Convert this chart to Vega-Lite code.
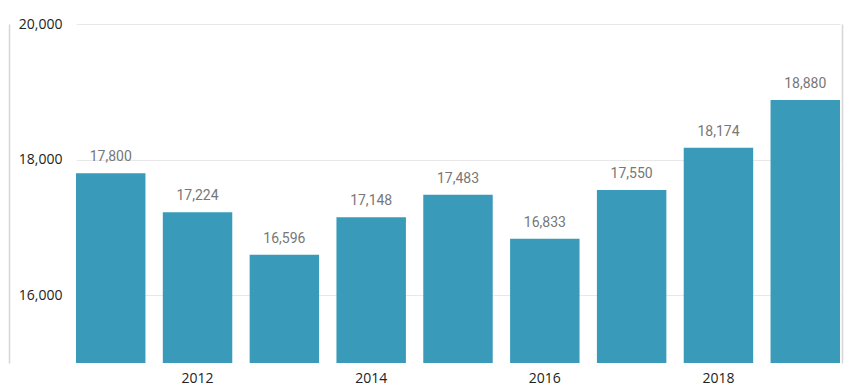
{
  "$schema": "https://vega.github.io/schema/vega-lite/v6.json",
  "autosize": {"type": "none"},
  "width": 764,
  "height": 339,
  "padding": {"left": 76, "top": 24, "right": 10, "bottom": 27},
  "background": "white",
  "config": {"view": {"stroke": null}},
  "data": {
    "values": [
      {"year": 2011, "value": 17800},
      {"year": 2012, "value": 17224},
      {"year": 2013, "value": 16596},
      {"year": 2014, "value": 17148},
      {"year": 2015, "value": 17483},
      {"year": 2016, "value": 16833},
      {"year": 2017, "value": 17550},
      {"year": 2018, "value": 18174},
      {"year": 2019, "value": 18880}
    ]
  },
  "encoding": {
    "x": {
      "field": "year",
      "type": "ordinal",
      "scale": {"paddingInner": 0.2, "paddingOuter": 0.0},
      "axis": {
        "title": null,
        "values": [2012, 2014, 2016, 2018],
        "labelAngle": 0,
        "domain": false,
        "ticks": false,
        "labelPadding": 8,
        "labelFont": "Open Sans",
        "labelFontSize": 14,
        "labelColor": "#222"
      }
    }
  },
  "layer": [
    {
      "mark": {"type": "bar", "color": "#3a9aba", "clip": true},
      "encoding": {
        "y": {
          "field": "value",
          "type": "quantitative",
          "scale": {"domain": [15000, 20000], "nice": false, "zero": false},
          "axis": {
            "title": null,
            "values": [16000, 18000, 20000],
            "format": ",d",
            "domain": true,
            "domainColor": "#d6d6d6",
            "domainWidth": 1.5,
            "offset": 67,
            "ticks": false,
            "labelPadding": -53,
            "labelAlign": "right",
            "labelFont": "Open Sans",
            "labelFontSize": 14,
            "labelColor": "#222",
            "gridColor": "#e8e8e8"
          }
        }
      }
    },
    {
      "mark": {"type": "text", "baseline": "alphabetic", "dy": -12, "font": "Roboto", "fontSize": 14, "letterSpacing": 0.8, "color": "#777"},
      "encoding": {
        "y": {
          "field": "value",
          "type": "quantitative",
          "scale": {"domain": [15000, 20000], "nice": false, "zero": false},
          "axis": {
            "title": null,
            "orient": "right",
            "offset": 2,
            "labels": false,
            "ticks": false,
            "grid": false,
            "domain": true,
            "domainColor": "#d6d6d6",
            "domainWidth": 1.5
          }
        },
        "text": {"field": "value", "type": "quantitative", "format": ",d"}
      }
    }
  ],
  "resolve": {"scale": {"y": "independent"}}
}
